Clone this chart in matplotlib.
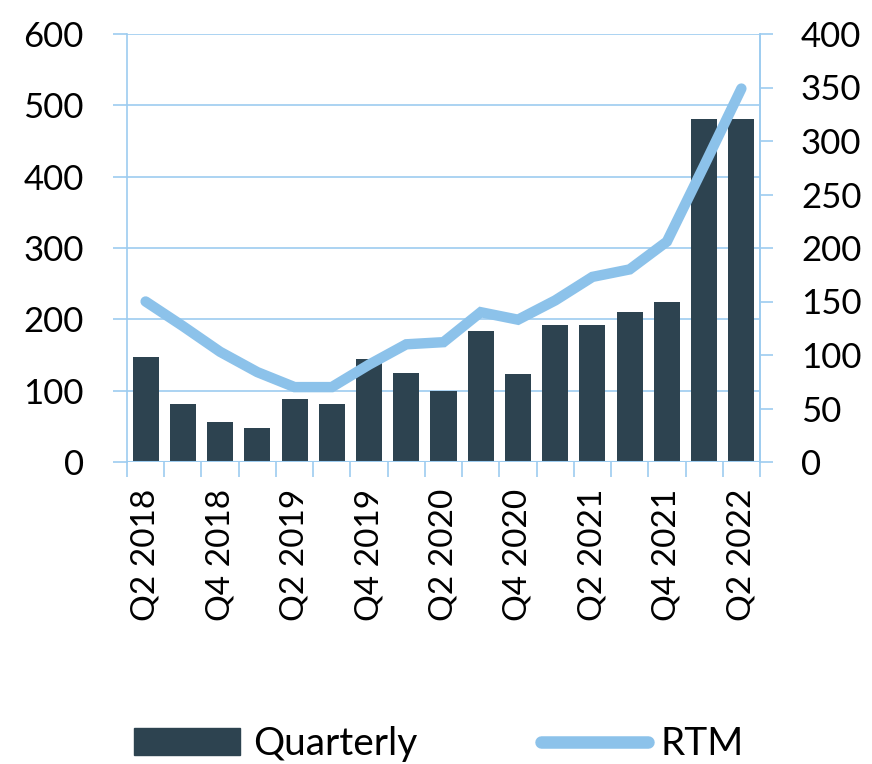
import matplotlib
matplotlib.use("Agg")
import matplotlib.pyplot as plt
from matplotlib.patches import Patch
from matplotlib.lines import Line2D
import numpy as np

categories = ["Q2 2018", "Q3 2018", "Q4 2018", "Q1 2019", "Q2 2019", "Q3 2019",
              "Q4 2019", "Q1 2020", "Q2 2020", "Q3 2020", "Q4 2020", "Q1 2021",
              "Q2 2021", "Q3 2021", "Q4 2021", "Q1 2022", "Q2 2022"]
quarterly = [147, 82, 56, 48, 89, 82, 145, 125, 100, 183, 123, 192, 192, 210, 224, 481, 481]
rtm = [150, 127, 103, 84, 70, 70, 91, 110, 112, 140, 133, 151, 173, 180, 206, 277, 349]
left_ticks = [0, 100, 200, 300, 400, 500, 600]
right_ticks = [0, 50, 100, 150, 200, 250, 300, 350, 400]

BAR = "#2D4350"
LINE = "#8CC2EA"
GRID = "#9DCCF0"
FONT = ["Lato", "DejaVu Sans"]
plt.rcParams['font.family'] = FONT

fig = plt.figure(figsize=(8.72, 7.64), dpi=100)
ax = fig.add_axes([127/872, 1-462/764, (760-127)/872, (462-34)/764])
x = np.arange(len(categories))

ax.bar(x, quarterly, width=0.7, color=BAR, zorder=3)
ax.set_xlim(-0.5, len(categories) - 0.5)
ax.set_ylim(0, 600)
ax.set_yticks(left_ticks)
ax.yaxis.grid(True, color=GRID, linewidth=1.2, zorder=0)
ax.tick_params(axis='y', length=10, color=GRID, width=1.2, labelsize=25, pad=21)
for s in ["top", "bottom"]:
    ax.spines[s].set_visible(False)
ax.spines["left"].set_color(GRID)
ax.spines["right"].set_color(GRID)
ax.spines["left"].set_linewidth(1.2)
ax.spines["right"].set_linewidth(1.2)
ax.axhline(0, color=GRID, linewidth=1.5, zorder=4)

ax.set_xticks(x[::2])
ax.set_xticklabels(categories[::2], rotation=90, fontsize=24)
ax.tick_params(axis='x', length=0, pad=19)
ax.set_xticks(np.arange(-0.5, len(categories)), minor=True)
ax.tick_params(axis='x', which='minor', length=11, color=GRID, width=1.2)

ax2 = ax.twinx()
ax2.plot(x, rtm, color=LINE, linewidth=7.5, solid_capstyle='round',
         solid_joinstyle='miter', zorder=5)
ax2.set_ylim(0, 400)
ax2.set_yticks(right_ticks)
ax2.tick_params(axis='y', length=9.5, color=GRID, width=1.2, labelsize=25, pad=20)
for s in ["top", "bottom", "left"]:
    ax2.spines[s].set_visible(False)
ax2.spines["right"].set_color(GRID)
ax2.spines["right"].set_linewidth(1.2)

handles = [Patch(facecolor=BAR, edgecolor=BAR),
           Line2D([0], [0], color=LINE, linewidth=9, solid_capstyle='round')]
fig.legend(handles, ["Quarterly", "RTM"], loc='center', ncol=2,
           bbox_to_anchor=(0.503, 0.026), frameon=False, fontsize=28,
           handlelength=2.73, handleheight=0.7, handletextpad=0.33,
           columnspacing=3.2, borderpad=0, borderaxespad=0)

fig.savefig("out.png", dpi=100)
